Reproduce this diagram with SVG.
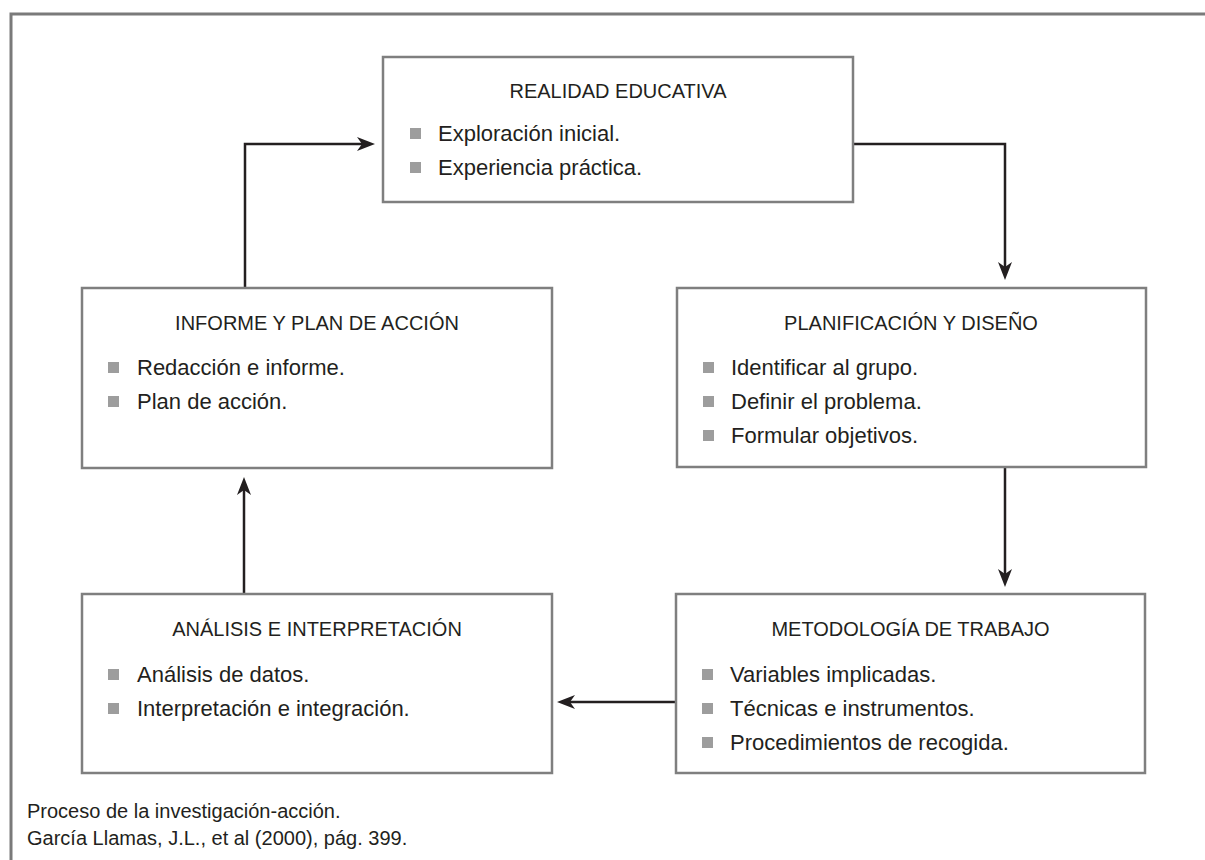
<svg xmlns="http://www.w3.org/2000/svg" width="1205" height="860" viewBox="0 0 1205 860">
  <style>
    .box { fill: #ffffff; stroke: #7f7f7f; stroke-width: 2.5; }
    .title { font-family: "Liberation Sans", Arial, sans-serif; font-size: 20px; fill: #231f20; text-anchor: middle; }
    .item { font-family: "Liberation Sans", Arial, sans-serif; font-size: 22px; fill: #231f20; }
    .bullet { fill: #9d9d9d; }
    .conn { fill: none; stroke: #231f20; stroke-width: 2.5; }
    .caption { font-family: "Liberation Sans", Arial, sans-serif; font-size: 20px; fill: #231f20; }
  </style>
  <defs>
    <marker id="arrow" viewBox="-20 -8 22 16" refX="-10" refY="0" markerWidth="22" markerHeight="16" markerUnits="userSpaceOnUse" orient="auto">
      <path d="M0,0 L-18,-7 L-13,0 L-18,7 Z" fill="#231f20"/>
    </marker>
  </defs>
  <rect width="1205" height="860" fill="#ffffff"/>
  <path d="M11,860 V14 H1205" fill="none" stroke="#7a7a7a" stroke-width="3"/>

  <g id="connectors">
    <path class="conn" d="M245,288 V144 H365" marker-end="url(#arrow)"/>
    <path class="conn" d="M853,144 H1005 V270" marker-end="url(#arrow)"/>
    <path class="conn" d="M1005,467 V577" marker-end="url(#arrow)"/>
    <path class="conn" d="M676,702 H567" marker-end="url(#arrow)"/>
    <path class="conn" d="M244,594 V487" marker-end="url(#arrow)"/>
  </g>

  <g id="realidad">
    <rect class="box" x="383" y="57" width="470" height="145"/>
    <text class="title" x="618" y="98">REALIDAD EDUCATIVA</text>
    <rect class="bullet" x="410" y="128" width="11" height="11"/>
    <text class="item" x="438" y="141">Exploración inicial.</text>
    <rect class="bullet" x="410" y="162" width="11" height="11"/>
    <text class="item" x="438" y="175">Experiencia práctica.</text>
  </g>

  <g id="planificacion">
    <rect class="box" x="677" y="288" width="469" height="179"/>
    <text class="title" x="911" y="330">PLANIFICACIÓN Y DISEÑO</text>
    <rect class="bullet" x="703" y="362" width="11" height="11"/>
    <text class="item" x="731" y="375">Identificar al grupo.</text>
    <rect class="bullet" x="703" y="396" width="11" height="11"/>
    <text class="item" x="731" y="409">Definir el problema.</text>
    <rect class="bullet" x="703" y="430" width="11" height="11"/>
    <text class="item" x="731" y="443">Formular objetivos.</text>
  </g>

  <g id="informe">
    <rect class="box" x="82" y="288" width="470" height="180"/>
    <text class="title" x="317" y="330">INFORME Y PLAN DE ACCIÓN</text>
    <rect class="bullet" x="108" y="362" width="11" height="11"/>
    <text class="item" x="137" y="375">Redacción e informe.</text>
    <rect class="bullet" x="108" y="396" width="11" height="11"/>
    <text class="item" x="137" y="409">Plan de acción.</text>
  </g>

  <g id="metodologia">
    <rect class="box" x="676" y="594" width="469" height="179"/>
    <text class="title" x="910.5" y="636">METODOLOGÍA DE TRABAJO</text>
    <rect class="bullet" x="702" y="669" width="11" height="11"/>
    <text class="item" x="730" y="682">Variables implicadas.</text>
    <rect class="bullet" x="702" y="703" width="11" height="11"/>
    <text class="item" x="730" y="716">Técnicas e instrumentos.</text>
    <rect class="bullet" x="702" y="737" width="11" height="11"/>
    <text class="item" x="730" y="750">Procedimientos de recogida.</text>
  </g>

  <g id="analisis">
    <rect class="box" x="82" y="594" width="470" height="179"/>
    <text class="title" x="317" y="636">ANÁLISIS E INTERPRETACIÓN</text>
    <rect class="bullet" x="108" y="669" width="11" height="11"/>
    <text class="item" x="137" y="682">Análisis de datos.</text>
    <rect class="bullet" x="108" y="703" width="11" height="11"/>
    <text class="item" x="137" y="716">Interpretación e integración.</text>
  </g>

  <g id="caption">
    <text class="caption" x="27" y="818">Proceso de la investigación-acción.</text>
    <text class="caption" x="27" y="845">García Llamas, J.L., et al (2000), pág. 399.</text>
  </g>
</svg>
